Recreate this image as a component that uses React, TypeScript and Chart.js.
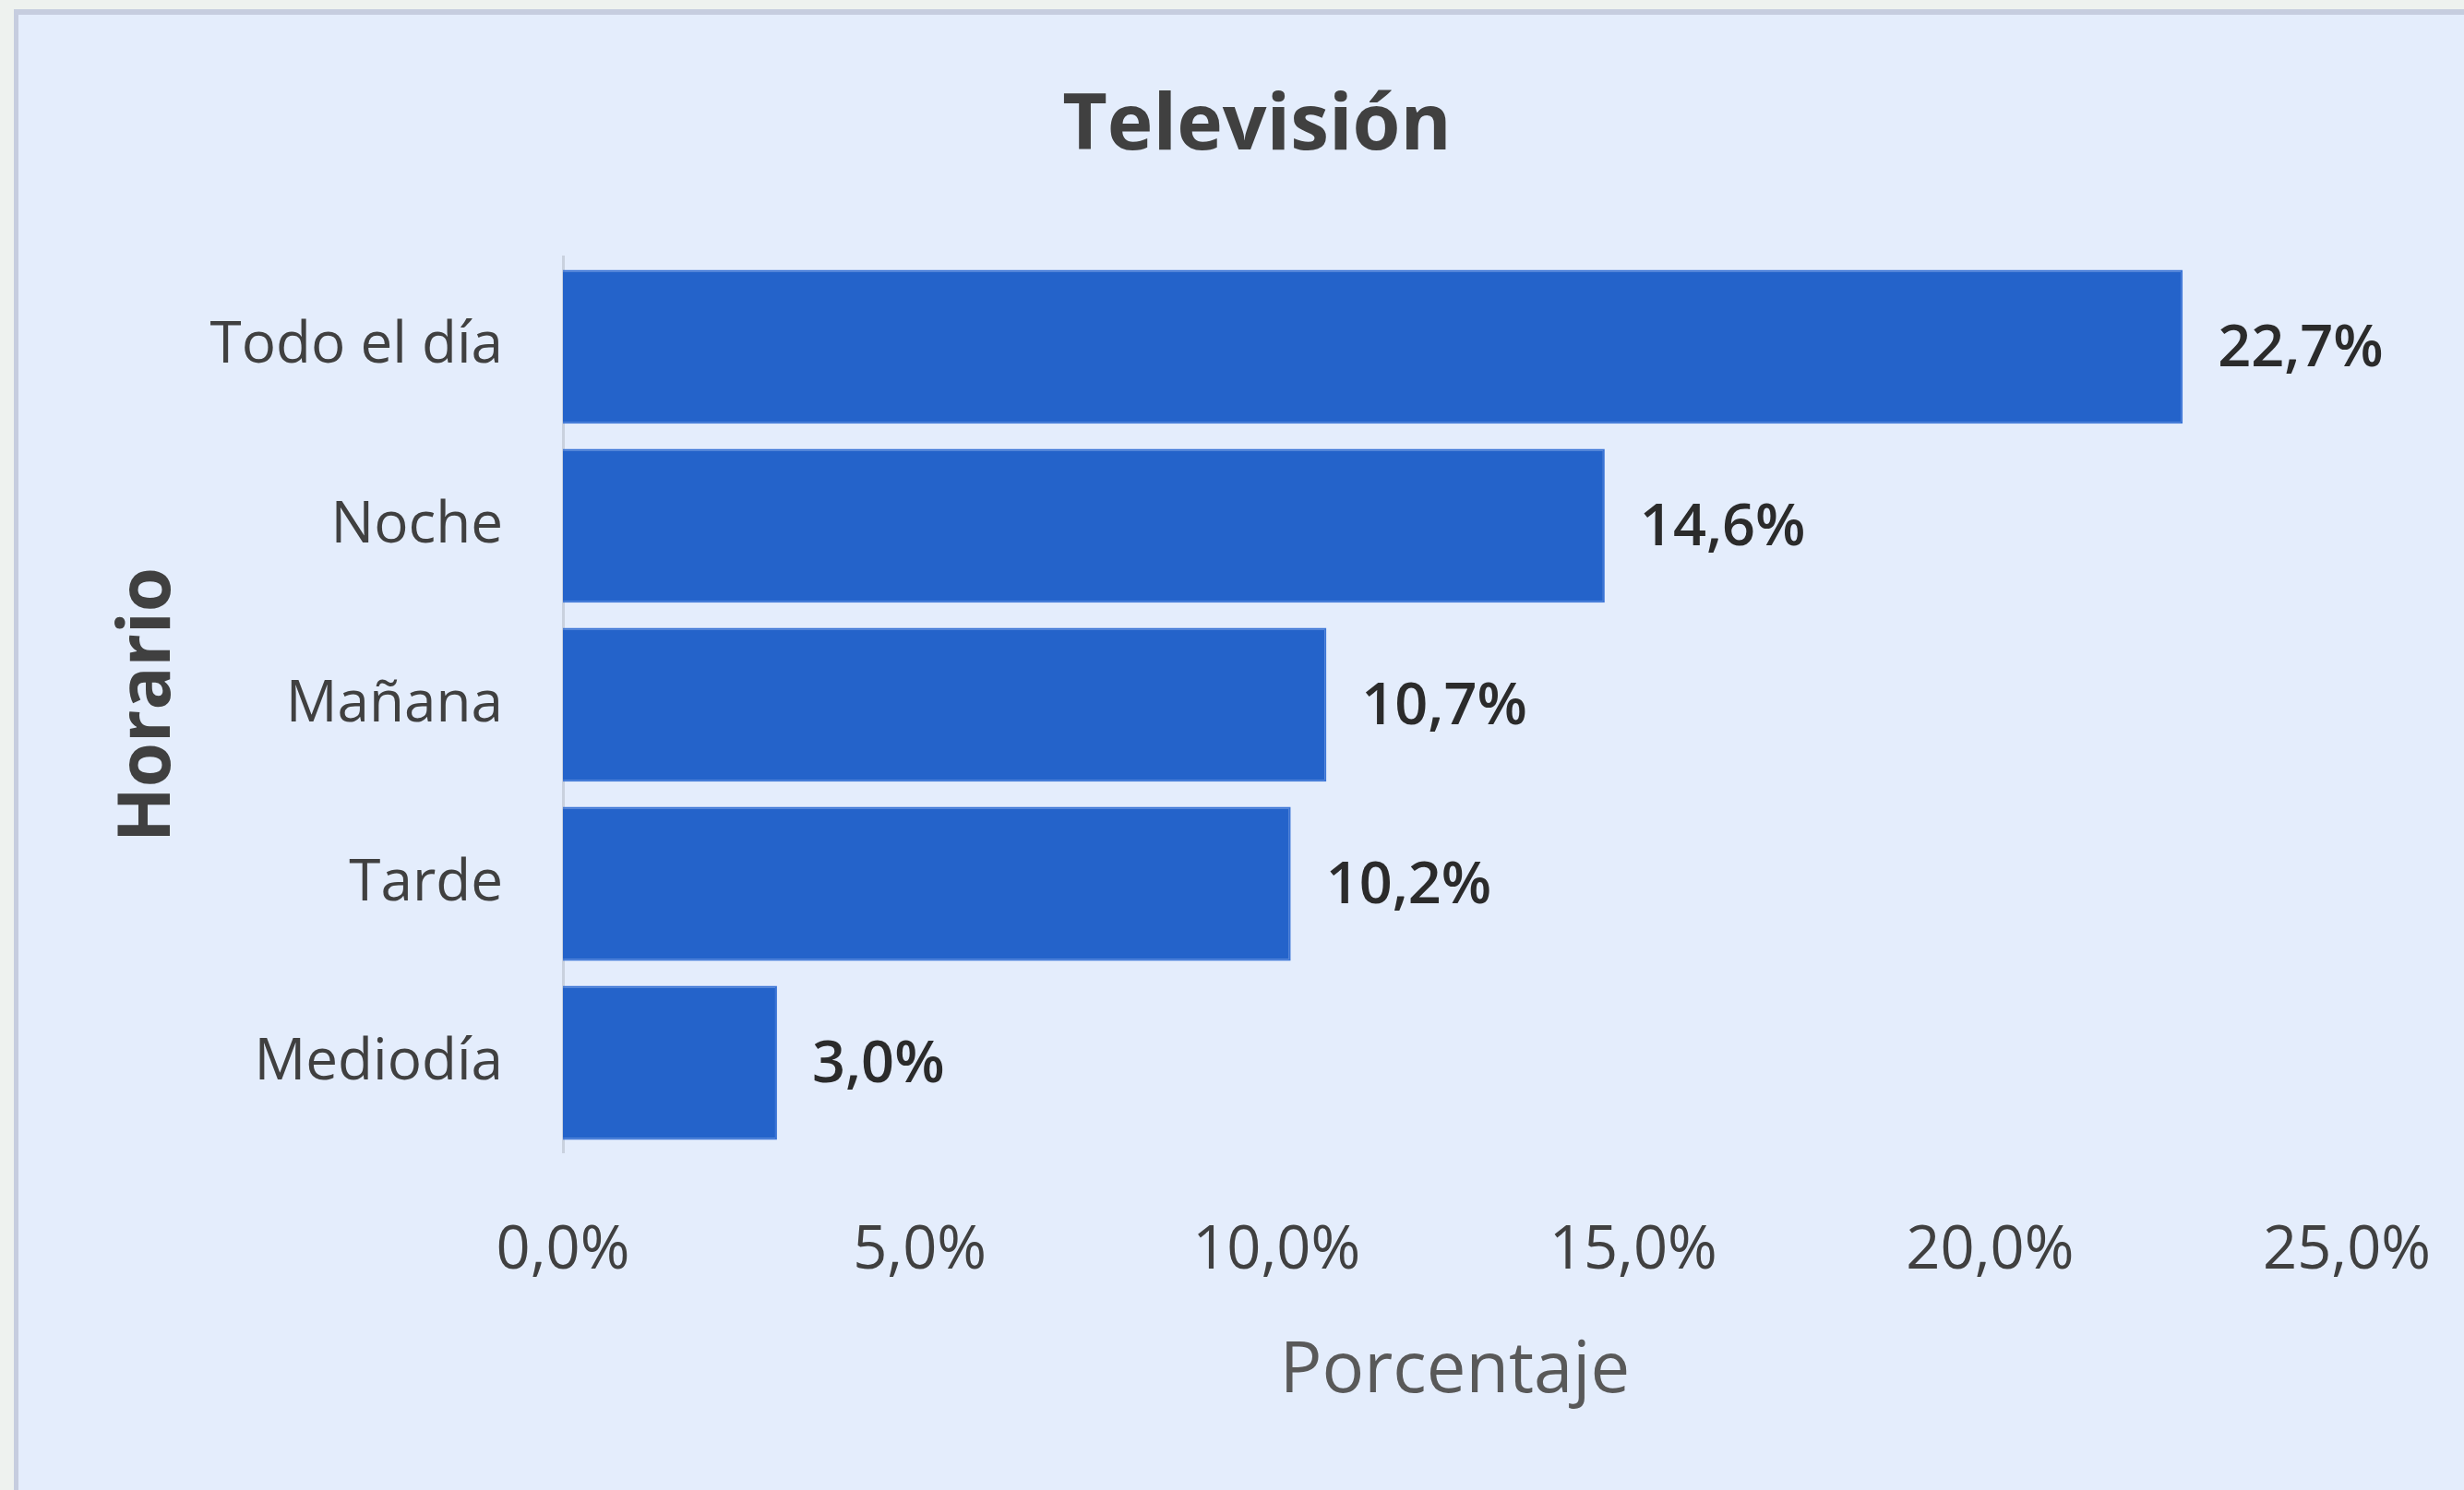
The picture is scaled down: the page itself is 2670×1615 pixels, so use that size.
import React, { useEffect, useRef } from "react";
import { Chart, registerables } from "chart.js";

Chart.register(...registerables);

const categories = ["Todo el día", "Noche", "Mañana", "Tarde", "Mediodía"];
const values = [22.7, 14.6, 10.7, 10.2, 3.0];
const xMin = 0;
const xMax = 25;
const xStep = 5;
const chartTitle = "Televisión";
const xTitle = "Porcentaje";
const yTitle = "Horario";

const W = 2670;
const H = 1615;
const FONT = "'Open Sans', 'Noto Sans', sans-serif";

const fmt = (v: number) => v.toFixed(1).replace(".", ",") + "%";

const dataLabelPlugin = {
  id: "dataLabels",
  afterDatasetsDraw(chart: any) {
    const { ctx } = chart;
    const meta = chart.getDatasetMeta(0);
    ctx.save();
    ctx.font = `600 63px ${FONT}`;
    ctx.fillStyle = "#2b2b2b";
    ctx.textAlign = "left";
    ctx.textBaseline = "middle";
    meta.data.forEach((bar: any, i: number) => {
      ctx.fillText(fmt(values[i]), bar.x + 38, bar.y + 3);
    });
    ctx.restore();
  },
};

export default function App() {
  const ref = useRef<HTMLCanvasElement>(null);

  useEffect(() => {
    if (!ref.current) return;
    const chart = new Chart(ref.current, {
      type: "bar",
      data: {
        labels: categories,
        datasets: [
          {
            data: values,
            backgroundColor: "#2463ca",
            borderColor: "#3a74d6",
            borderWidth: 2,
            barPercentage: 0.86,
            categoryPercentage: 1,
          },
        ],
      },
      options: {
        indexAxis: "y",
        animation: false,
        responsive: false,
        devicePixelRatio: 1,
        layout: { padding: { left: 181, right: 127, top: 0, bottom: 0 } },
        plugins: {
          legend: { display: false },
          tooltip: { enabled: false },
          title: {
            display: true,
            text: chartTitle,
            color: "#404040",
            font: { family: FONT, size: 84, weight: "bold" },
            padding: { top: 88, bottom: 90 },
          },
        },
        scales: {
          x: {
            min: xMin,
            max: xMax,
            grid: { display: false, drawTicks: false },
            border: { display: false },
            ticks: {
              stepSize: xStep,
              padding: 68,
              color: "#404040",
              font: { family: FONT, size: 65 },
              callback: (v: any) => fmt(Number(v)),
            },
            title: {
              display: true,
              text: xTitle,
              color: "#595959",
              font: { family: FONT, size: 76 },
              padding: { top: 0, bottom: 82 },
            },
            afterFit: (scale: any) => {
              scale.height = H - 1249;
              scale.paddingLeft = 0;
              scale.paddingRight = 0;
            },
          },
          y: {
            grid: { display: false, drawTicks: false },
            border: { display: true, color: "#c9d1de", width: 3 },
            ticks: {
              padding: 65,
              color: "#404040",
              font: { family: FONT, size: 62 },
            },
            title: {
              display: true,
              text: yTitle,
              color: "#404040",
              font: { family: FONT, size: 78, weight: "bold" },
              padding: { top: -66, bottom: 0 },
            },
            afterFit: (scale: any) => {
              scale.width = 610 - 181;
              scale.paddingTop = 0;
              scale.paddingBottom = 0;
            },
          },
        },
      },
      plugins: [dataLabelPlugin],
    } as any);
    return () => chart.destroy();
  }, []);

  return (
    <div
      style={{
        position: "fixed",
        left: 0,
        top: 0,
        width: W,
        height: H,
        overflow: "hidden",
        background: "#eef2ef",
      }}
    >
      <div
        style={{
          position: "absolute",
          left: 15,
          top: 10,
          width: W,
          height: H,
          background: "#e4edfc",
          borderTop: "6px solid #c6cddf",
          borderLeft: "5px solid #c6cddf",
        }}
      />
      <canvas
        ref={ref}
        width={W}
        height={H}
        style={{ position: "absolute", left: 0, top: 0, width: W, height: H }}
      />
    </div>
  );
}
